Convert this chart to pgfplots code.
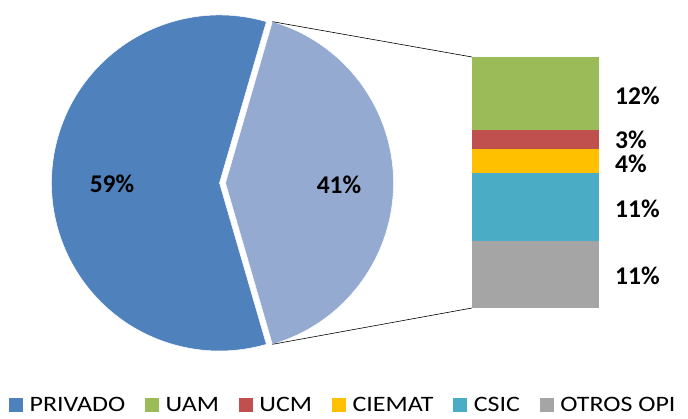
\documentclass[border=0pt]{standalone}
\usepackage{pgfplots}
\pgfplotsset{compat=1.18}
\usepackage{fontspec}
\setmainfont{Carlito}
\newfontfamily\legfont[FakeStretch=1.18]{Carlito}
\definecolor{cPriv}{RGB}{79,129,189}
\definecolor{cOtros}{RGB}{149,170,208}
\definecolor{cUAM}{RGB}{155,187,89}
\definecolor{cUCM}{RGB}{192,80,77}
\definecolor{cCIE}{RGB}{255,192,0}
\definecolor{cCSIC}{RGB}{75,172,198}
\definecolor{cOPI}{RGB}{165,165,165}
\def\valPriv{59}
\def\valOtros{41}
\pgfmathsetmacro{\half}{\valOtros*3.6/2}
\pgfmathsetmacro{\endP}{360-\half}
\tikzset{lbl/.style={font=\fontsize{25.5}{27}\selectfont\bfseries, text depth=0pt}}
\begin{document}
\begin{tikzpicture}
% ---------- bar axis ----------
\begin{axis}[
  at={(472pt,110pt)}, anchor=south west,
  scale only axis, width=127pt, height=251pt,
  xmin=-0.5, xmax=0.5, ymin=0, ymax=41,
  ybar stacked, bar width=127pt,
  hide axis, clip=false,
]
\addplot[fill=cOPI, draw=none] coordinates {(0,11)};
\addplot[fill=cCSIC, draw=none] coordinates {(0,11)};
\addplot[fill=cCIE, draw=none] coordinates {(0,4)};
\addplot[fill=cUCM, draw=none] coordinates {(0,3)};
\addplot[fill=cUAM, draw=none] coordinates {(0,12)};
\node[lbl, anchor=west, inner sep=0pt, xshift=16pt, yshift=-1.5pt] at (axis cs:0.5,5.5) {11\%};
\node[lbl, anchor=west, inner sep=0pt, xshift=16pt, yshift=-1.5pt] at (axis cs:0.5,16.5) {11\%};
\node[lbl, anchor=west, inner sep=0pt, xshift=16pt, yshift=-2.5pt] at (axis cs:0.5,24) {4\%};
\node[lbl, anchor=west, inner sep=0pt, xshift=16pt, yshift=-0.5pt] at (axis cs:0.5,27.5) {3\%};
\node[lbl, anchor=west, inner sep=0pt, xshift=16pt, yshift=-1.5pt] at (axis cs:0.5,35) {12\%};
\end{axis}
% ---------- main axis (pie + legend) ----------
\begin{axis}[
  at={(0pt,0pt)}, anchor=south west,
  x=1pt, y=1pt, xmin=0, xmax=688, ymin=0, ymax=418,
  hide axis, clip=false,
  legend columns=6,
  legend image code/.code={\fill[#1] (0pt,-6.5pt) rectangle (13pt,6.5pt);},
  legend style={at={(axis cs:9,13.5)}, anchor=west, draw=none, fill=none,
    inner sep=0pt, nodes={inner sep=2pt, text depth=0pt}, font=\legfont\fontsize{22}{24}\selectfont,
    /tikz/every odd column/.append style={column sep=5pt},
    /tikz/every even column/.append style={column sep=18pt}},
]
\addlegendimage{cPriv}\addlegendentry{PRIVADO}
\addlegendimage{cUAM}\addlegendentry{UAM}
\addlegendimage{cUCM}\addlegendentry{UCM}
\addlegendimage{cCIE}\addlegendentry{CIEMAT}
\addlegendimage{cCSIC}\addlegendentry{CSIC}
\addlegendimage{cOPI}\addlegendentry{OTROS OPI}
\fill[cPriv, draw=white, line width=0.5pt] (axis cs:219.5,235) -- ++(\half:168pt)
  arc[start angle=\half, end angle=\endP, radius=168pt] -- cycle;
\fill[cOtros, draw=white, line width=0.5pt] (axis cs:225.5,235) -- ++(-\half:168pt)
  arc[start angle=-\half, end angle=\half, radius=168pt] -- cycle;
\draw[black, line width=0.6pt] (axis cs:225.5,235) ++(\half:168pt) -- (axis cs:472,361);
\draw[black, line width=0.6pt] (axis cs:225.5,235) ++(-\half:168pt) -- (axis cs:472,110);
\node[lbl] at (axis cs:112,234) {59\%};
\node[lbl] at (axis cs:339,233.5) {41\%};
\end{axis}
\pgfresetboundingbox
\path[use as bounding box] (0pt,0pt) rectangle (688pt,418pt);
\end{tikzpicture}
\end{document}
